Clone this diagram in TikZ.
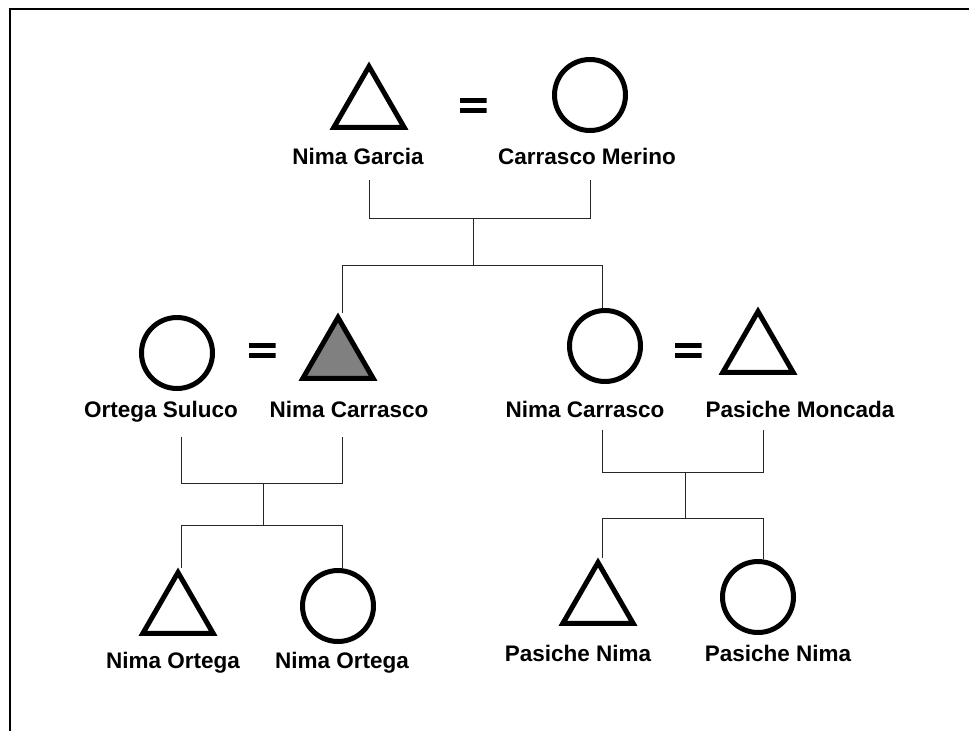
\documentclass[tikz,border=0pt]{standalone}
\usepackage{fontspec}
\setmainfont{Liberation Sans}
\usetikzlibrary{shapes.geometric}

\tikzset{
  male/.style={regular polygon, regular polygon sides=3, draw=black,
    line width=5pt, minimum size=81pt, inner sep=0pt, fill=white},
  affected/.style={male, fill=black!50},
  female/.style={circle, draw=black, line width=5pt, minimum size=71pt,
    inner sep=0pt, fill=white},
  eqsign/.style={minimum width=27pt, minimum height=15pt, inner sep=0pt,
    path picture={
      \fill (path picture bounding box.north west) rectangle
            ([yshift=-5pt]path picture bounding box.north east);
      \fill (path picture bounding box.south west) rectangle
            ([yshift=5pt]path picture bounding box.south east);}},
  pname/.style={font=\bfseries\fontsize{22.5}{26}\selectfont, anchor=base,
    inner sep=0pt},
  link/.style={draw=black!85, line width=1pt},
}

\begin{document}
\begin{tikzpicture}[x=1pt, y=-1pt]
  \useasboundingbox (0,0) rectangle (969,731);
  % frame
  \draw[line width=2pt] (9.5,731) -- (9.5,8.5) -- (969,8.5);

  % first generation
  \node[male]   (ng) at (369,107) {};
  \node[eqsign] (e1) at (473,105) {};
  \node[female] (cm) at (590,95) {};
  \node[pname] (lng) at (358,164) {Nima Garcia};
  \node[pname] (lcm) at (587,164) {Carrasco Merino};

  % second generation
  \node[female]   (os) at (177,353) {};
  \node[eqsign]   (e2) at (262,350) {};
  \node[affected] (nc1) at (338,358) {};
  \node[female]   (nc2) at (605,346) {};
  \node[eqsign]   (e3) at (688,350) {};
  \node[male]     (pm) at (758,352) {};
  \node[pname] (los)  at (161,417) {Ortega Suluco};
  \node[pname] (lnc1) at (349,417) {Nima Carrasco};
  \node[pname] (lnc2) at (585,417) {Nima Carrasco};
  \node[pname] (lpm)  at (800,417) {Pasiche Moncada};

  % third generation
  \node[male]   (no1) at (178,613) {};
  \node[female] (no2) at (338,606) {};
  \node[male]   (pn1) at (598,603) {};
  \node[female] (pn2) at (758,597) {};
  \node[pname] (lno1) at (173,668) {Nima Ortega};
  \node[pname] (lno2) at (342,668) {Nima Ortega};
  \node[pname] (lpn1) at (578,661) {Pasiche Nima};
  \node[pname] (lpn2) at (778,661) {Pasiche Nima};

  % junction points of the descent lines
  \coordinate (a1) at (369,180);
  \coordinate (a2) at (590,180);
  \coordinate (am) at (473,218);
  \coordinate (ab) at (473,265);
  \coordinate (ac1) at (342,265);
  \coordinate (ac2) at (602,265);

  \coordinate (b1) at (181,437);
  \coordinate (b2) at (342,437);
  \coordinate (bm) at (263,483);
  \coordinate (bb) at (263,525);
  \coordinate (bc1) at (181,525);
  \coordinate (bc2) at (342,525);

  \coordinate (c1) at (602,430);
  \coordinate (c2) at (763,430);
  \coordinate (cm1) at (685,472);
  \coordinate (cb) at (685,518);
  \coordinate (cc1) at (602,518);
  \coordinate (cc2) at (763,518);

  % first family
  \draw[link] (a1) -- (a1 |- am) -- (a2 |- am) -- (a2);
  \draw[link] (am) -- (ab);
  \draw[link] (ac1) -- (ac2);
  \draw[link] (ac1) -- (ac1 |- nc1.north);
  \draw[link] (ac2) -- (ac2 |- nc2.north);

  % second family, left
  \draw[link] (b1) -- (b1 |- bm) -- (b2 |- bm) -- (b2);
  \draw[link] (bm) -- (bb);
  \draw[link] (bc1) -- (bc2);
  \draw[link] (bc1) -- (bc1 |- no1.north);
  \draw[link] (bc2) -- (bc2 |- no2.north);

  % second family, right
  \draw[link] (c1) -- (c1 |- cm1) -- (c2 |- cm1) -- (c2);
  \draw[link] (cm1) -- (cb);
  \draw[link] (cc1) -- (cc2);
  \draw[link] (cc1) -- (cc1 |- pn1.north);
  \draw[link] (cc2) -- (cc2 |- pn2.north);
\end{tikzpicture}
\end{document}
